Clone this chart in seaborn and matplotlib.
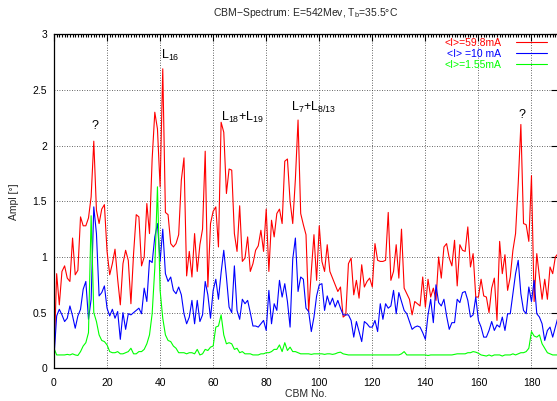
import numpy as np
import pandas as pd
import seaborn as sns
import matplotlib
matplotlib.use("Agg")
import matplotlib.pyplot as plt
from matplotlib.ticker import MultipleLocator

# CBM mode number 0..190
cbm = list(range(191))

# <I>=59.8mA
red = [0.08, 0.85, 0.57, 0.87, 0.92, 0.81, 0.78, 1.17, 0.84, 0.88,
       1.36, 1.28, 1.28, 1.35, 1.54, 2.04, 1.42, 1.30, 1.43, 1.47,
       1.05, 0.84, 0.94, 1.07, 0.80, 0.57, 0.94, 1.06, 0.97, 0.58,
       1.03, 1.38, 1.36, 0.92, 1.00, 1.48, 1.21, 1.88, 2.30, 2.15,
       1.63, 2.69, 1.40, 1.38, 1.12, 1.09, 1.12, 1.20, 1.69, 1.89,
       0.83, 1.05, 0.82, 1.21, 0.87, 1.11, 1.25, 1.95, 0.73, 1.30,
       1.41, 1.45, 1.09, 2.21, 2.12, 1.57, 1.79, 1.78, 1.21, 1.05,
       1.46, 0.96, 0.99, 1.18, 0.87, 0.94, 1.06, 1.10, 1.24, 1.05,
       1.43, 0.87, 1.33, 1.18, 1.39, 1.43, 1.30, 1.86, 1.88, 1.50,
       1.30, 1.70, 2.23, 1.39, 1.29, 1.20, 0.51, 0.87, 1.20, 0.79,
       1.28, 0.96, 0.87, 1.11, 0.87, 0.81, 0.75, 0.69, 0.73, 0.46,
       0.48, 0.94, 0.99, 0.66, 0.79, 0.63, 0.93, 0.73, 0.78, 0.81,
       0.73, 1.12, 0.97, 0.96, 0.96, 0.97, 1.40, 0.79, 0.87, 1.11,
       0.81, 1.25, 0.72, 0.67, 0.62, 0.48, 0.60, 0.58, 0.56, 0.82,
       0.55, 0.80, 0.64, 0.72, 0.61, 1.00, 0.81, 1.09, 1.12, 0.99,
       0.92, 1.15, 0.74, 1.11, 1.06, 1.05, 1.27, 0.91, 1.03, 0.64,
       0.64, 0.80, 0.65, 0.64, 0.50, 0.72, 0.81, 0.43, 1.14, 0.85,
       1.02, 0.70, 0.82, 1.06, 1.21, 1.66, 2.19, 1.30, 1.29, 1.14,
       1.73, 0.60, 1.03, 0.82, 0.62, 0.80, 0.62, 0.91, 0.85, 1.00,
       1.03]

# <I>=10 mA
blue = [0.10, 0.47, 0.53, 0.48, 0.42, 0.45, 0.56, 0.47, 0.36, 0.47,
        0.53, 0.71, 0.78, 0.44, 0.62, 1.45, 1.21, 0.65, 0.68, 0.74,
        0.54, 0.47, 0.53, 0.45, 0.51, 0.26, 0.50, 0.35, 0.49, 0.48,
        0.50, 0.52, 0.54, 0.49, 0.72, 0.60, 0.97, 0.95, 1.18, 1.30,
        0.96, 1.25, 0.85, 0.78, 0.82, 0.70, 0.67, 0.73, 0.66, 0.49,
        0.40, 0.46, 0.61, 0.40, 0.61, 0.42, 0.48, 0.78, 0.66, 0.45,
        0.70, 0.80, 0.62, 0.86, 1.06, 0.82, 0.55, 0.50, 0.92, 0.52,
        0.44, 0.62, 0.58, 0.61, 0.50, 0.38, 0.38, 0.37, 0.40, 0.43,
        0.34, 0.70, 0.40, 0.58, 0.52, 0.79, 0.64, 0.76, 0.60, 0.37,
        0.98, 1.17, 0.69, 0.82, 0.80, 0.54, 0.51, 0.33, 0.46, 0.65,
        0.75, 0.76, 0.52, 0.65, 0.57, 0.63, 0.55, 0.61, 0.54, 0.48,
        0.48, 0.48, 0.43, 0.28, 0.42, 0.33, 0.24, 0.42, 0.40, 0.37,
        0.37, 0.43, 0.33, 0.58, 0.44, 0.58, 0.54, 0.56, 0.70, 0.49,
        0.68, 0.60, 0.52, 0.49, 0.42, 0.35, 0.37, 0.38, 0.37, 0.32,
        0.26, 0.48, 0.62, 0.41, 0.75, 0.59, 0.56, 0.62, 0.47, 0.35,
        0.41, 0.41, 0.62, 0.59, 0.68, 0.69, 0.61, 0.46, 0.48, 0.64,
        0.43, 0.37, 0.28, 0.28, 0.34, 0.42, 0.34, 0.39, 0.37, 0.46,
        0.34, 0.49, 0.49, 0.67, 0.85, 0.97, 0.67, 0.52, 0.49, 0.73,
        0.60, 0.79, 0.49, 0.46, 0.40, 0.25, 0.34, 0.37, 0.28, 0.37,
        0.46]

# <I>=1.55mA
green = [0.18, 0.12, 0.12, 0.12, 0.12, 0.125, 0.12, 0.13, 0.12, 0.115,
         0.15, 0.20, 0.23, 0.32, 1.37, 0.50, 0.42, 0.30, 0.25, 0.24,
         0.21, 0.15, 0.14, 0.14, 0.15, 0.13, 0.13, 0.14, 0.15, 0.18,
         0.13, 0.13, 0.15, 0.15, 0.17, 0.22, 0.30, 0.49, 0.90, 1.63,
         0.70, 0.45, 0.30, 0.25, 0.24, 0.20, 0.18, 0.14, 0.14, 0.14,
         0.13, 0.14, 0.14, 0.13, 0.17, 0.12, 0.13, 0.17, 0.16, 0.19,
         0.20, 0.37, 0.38, 0.48, 0.30, 0.22, 0.23, 0.22, 0.17, 0.18,
         0.14, 0.15, 0.13, 0.13, 0.13, 0.12, 0.12, 0.12, 0.13, 0.13,
         0.14, 0.14, 0.15, 0.17, 0.17, 0.21, 0.15, 0.23, 0.16, 0.19,
         0.15, 0.15, 0.14, 0.13, 0.13, 0.13, 0.13, 0.125, 0.13, 0.13,
         0.13, 0.13, 0.125, 0.13, 0.13, 0.125, 0.13, 0.14, 0.145, 0.13,
         0.125, 0.12, 0.12, 0.12, 0.12, 0.12, 0.12, 0.12, 0.12, 0.12,
         0.12, 0.12, 0.12, 0.12, 0.12, 0.12, 0.12, 0.12, 0.12, 0.12,
         0.12, 0.13, 0.15, 0.12, 0.12, 0.12, 0.12, 0.12, 0.12, 0.12,
         0.12, 0.115, 0.12, 0.12, 0.12, 0.12, 0.12, 0.12, 0.12, 0.12,
         0.12, 0.125, 0.13, 0.13, 0.13, 0.13, 0.14, 0.14, 0.15, 0.145,
         0.135, 0.12, 0.115, 0.11, 0.12, 0.11, 0.12, 0.12, 0.12, 0.11,
         0.12, 0.12, 0.12, 0.13, 0.12, 0.13, 0.14, 0.14, 0.15, 0.18,
         0.33, 0.29, 0.28, 0.30, 0.22, 0.18, 0.14, 0.13, 0.12, 0.12,
         0.12]

labels = ['<I>=59.8mA', '<I> =10 mA', '<I>=1.55mA']
colors = ['#ff0000', '#0000ff', '#00ff00']

df = pd.DataFrame({
    'cbm': cbm * 3,
    'ampl': red + blue + green,
    'current': [labels[0]] * 191 + [labels[1]] * 191 + [labels[2]] * 191,
})

sns.set_theme(style='white')
plt.rcParams['font.family'] = ['Liberation Sans', 'DejaVu Sans']

fig = plt.figure(figsize=(5.57, 4.01), dpi=100)
ax = fig.add_axes([54 / 557, 32.7 / 401, 504 / 557, 334 / 401])

sns.lineplot(data=df, x='cbm', y='ampl', hue='current', palette=colors,
             linewidth=0.8, estimator=None, sort=False, ax=ax)

ax.set_xlim(0, 190)
ax.set_ylim(0, 3)
ax.xaxis.set_major_locator(MultipleLocator(20))
ax.xaxis.set_minor_locator(MultipleLocator(1))
ax.set_yticks([0, 0.5, 1, 1.5, 2, 2.5, 3])
ax.set_yticklabels(['0', '0.5', '1', '1.5', '2', '2.5', '3'])
ax.tick_params(which='both', direction='in', top=True, right=True,
               labelsize=7.5, colors='black', width=0.8)
ax.tick_params(which='major', length=5, pad=5)
ax.tick_params(axis='x', which='major', pad=7)
ax.tick_params(which='minor', length=2.5)
ax.grid(True, which='major', color='#333333', linestyle=(0, (1, 2)), linewidth=0.6)
for s in ax.spines.values():
    s.set_color('black')
    s.set_linewidth(0.9)

ax.set_title('CBM\u2212Spectrum: E=542Mev, T$_\\mathregular{b}$=35.5\u00b0C',
             fontsize=7.5, pad=13)
ax.set_xlabel('CBM No.', fontsize=7.5, labelpad=1)
ax.set_ylabel('Ampl [\u00b0]', fontsize=7.5, labelpad=10)

handles, labs = ax.get_legend_handles_labels()
ax.legend(handles, labs, loc='upper right', frameon=False, markerfirst=False,
          labelcolor='linecolor', fontsize=7.5, handlelength=3.0,
          handletextpad=1.4, labelspacing=0.1, borderpad=0, borderaxespad=0,
          bbox_to_anchor=(547 / 557, 1 - 38 / 401), bbox_transform=fig.transFigure)

txt = dict(fontsize=9, color='black')
ax.text(15.5, 2.15, '?', ha='center', **txt)
ax.text(40.2, 2.78, 'L$_\\mathregular{16}$', ha='left', **txt)
ax.text(63, 2.22, 'L$_\\mathregular{18}$+L$_\\mathregular{19}$', ha='left', **txt)
ax.text(89.2, 2.31, 'L$_\\mathregular{7}$+L$_\\mathregular{8/13}$', ha='left', **txt)
ax.text(176.3, 2.25, '?', ha='center', **txt)

fig.savefig('out.png', dpi=100)
